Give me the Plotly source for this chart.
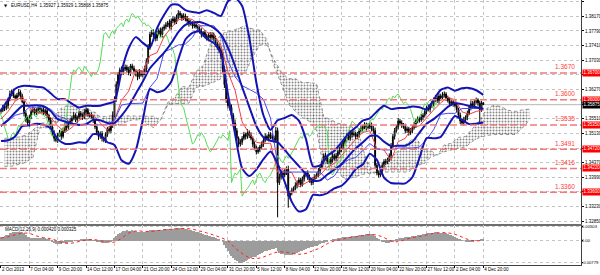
import plotly.graph_objects as go

# ---------------- data (prices in pips above 1.3000) ----------------
BASE = 1.3
PIP = 0.0001

close_pips = [
    572, 580, 578,
    585, 600, 615, 622, 610, 605,
    612, 620, 610, 595, 565, 548,
    540, 556, 570, 575, 566, 572,
    578, 570, 575, 565, 572, 560,
    548, 530, 512, 500, 495, 510,
    515, 505, 520, 535, 528, 540,
    545, 552, 560, 548, 555, 565,
    560, 555, 568, 575, 562, 560,
    555, 548, 530, 515, 505, 512,
    500, 495, 510, 525, 520, 535,
    560, 600, 640, 665, 678, 672,
    680, 685, 678, 670, 688, 682,
    675, 668, 660, 672, 665, 670,
    680, 700, 735, 770, 775, 768,
    760, 772, 780, 770, 785, 790,
    795, 800, 790, 805, 810, 802,
    815, 825, 820, 812, 818, 810,
    805, 798, 800, 792, 795, 790,
    785, 778, 770, 775, 765, 760,
    768, 762, 770, 760, 745, 738,
    730, 715, 680, 640, 600, 585,
    580, 560, 540, 520, 500, 485,
    490, 500, 510, 505, 515, 508,
    500, 485, 475, 465, 470, 478,
    485, 495, 505, 500, 510, 505,
    500, 495, 520, 385, 400, 410,
    405, 412, 420, 350, 358, 365,
    370, 378, 385, 392, 380, 395,
    405, 410, 400, 390, 385, 395,
    400, 405, 415, 425, 440, 455,
    450, 440, 438, 445, 455, 448,
    455, 465, 470, 480, 490, 498,
    505, 500, 515, 510, 512, 505,
    510, 520, 525, 530, 535, 528,
    530, 535, 525, 520, 430, 410,
    405, 415, 430, 440, 438, 445,
    455, 480, 505, 520, 530, 545,
    540, 535, 530, 520, 525, 515,
    520, 528, 535, 545, 550, 548,
    555, 560, 570, 580, 575, 585,
    590, 600, 605, 598, 610, 605,
    612, 615, 605, 598, 590, 595,
    590, 585, 575, 560, 545, 540,
    548, 555, 565, 580, 590, 585,
    595, 600, 592, 575, 592.7, 587.5,
]
first_open_pips = 570

wick_up = [
    5, 7, 4, 8, 6, 9, 5, 7, 4, 6,
    8, 5, 6, 4, 7, 9, 5, 6, 8, 4,
    6, 5, 7, 4, 8, 5, 6, 4, 7, 5,
    9, 6, 4, 7, 5, 8, 6, 4, 5, 7,
    6, 8, 5, 4, 7, 6, 5, 9, 6, 4,
    5, 7, 6, 4, 8, 5, 6, 7, 4, 6,
    5, 8, 6, 10, 9, 8, 7, 6, 9, 5,
    7, 6, 8, 5, 6, 7, 4, 6, 8, 5,
    6, 9, 8, 10, 7, 6, 8, 5, 7, 6,
    8, 5, 6, 7, 5, 9, 6, 8, 5, 7,
    8, 6, 5, 7, 6, 8, 5, 7, 4, 6,
    7, 5, 6, 8, 4, 6, 7, 5, 8, 6,
    5, 7, 6, 8, 6, 9, 7, 8, 6, 7,
    8, 6, 9, 7, 5, 8, 6, 7, 5, 9,
    6, 8, 5, 7, 6, 8, 5, 7, 6, 8,
    5, 7, 6, 8, 7, 10, 8, 9, 7, 6,
    8, 7, 9, 6, 7, 5, 8, 6, 7, 5,
    6, 8, 5, 7, 6, 8, 5, 7, 6, 8,
    7, 5, 6, 8, 5, 7, 6, 8, 5, 7,
    6, 8, 5, 7, 6, 8, 7, 5, 6, 8,
    5, 7, 6, 8, 5, 7, 6, 9, 8, 6,
    7, 8, 6, 7, 5, 8, 6, 7, 5, 6,
    8, 6, 7, 5, 8, 6, 7, 5, 8, 6,
    5, 7, 6, 8, 5, 7, 6, 8, 5, 7,
    6, 8, 5, 7, 6, 8, 5, 7, 6, 8,
    7, 5, 6, 8, 5, 7, 6, 8, 5, 7,
    6, 8, 5, 7, 6, 8, 7, 5, 6, 4,
    6, 5, 0.2,
]
wick_dn = [
    6, 4, 7, 5, 8, 4, 6, 5, 7, 6,
    5, 7, 4, 8, 6, 5, 9, 6, 4, 7,
    5, 8, 6, 7, 4, 6, 8, 5, 7, 6,
    8, 5, 7, 6, 9, 5, 6, 8, 5, 4,
    7, 5, 6, 8, 4, 6, 7, 5, 8, 6,
    6, 5, 8, 6, 7, 9, 6, 8, 5, 7,
    6, 5, 7, 8, 6, 5, 7, 8, 6, 7,
    5, 7, 6, 8, 5, 6, 7, 9, 6, 5,
    7, 6, 8, 6, 5, 7, 6, 8, 7, 5,
    6, 8, 5, 7, 6, 5, 8, 6, 7, 5,
    6, 8, 7, 5, 6, 7, 8, 5, 7, 6,
    5, 7, 6, 8, 7, 5, 6, 8, 6, 7,
    8, 6, 7, 9, 8, 10, 9, 8, 7, 8,
    7, 9, 8, 6, 8, 6, 7, 5, 8, 6,
    7, 5, 8, 6, 7, 5, 6, 8, 7, 5,
    6, 8, 7, 5, 6, 7, 90, 6, 7, 8,
    6, 7, 30, 8, 6, 7, 5, 8, 6, 7,
    5, 7, 6, 8, 5, 7, 6, 8, 5, 6,
    7, 5, 8, 6, 7, 5, 6, 8, 5, 7,
    6, 7, 5, 8, 6, 7, 5, 6, 8, 5,
    7, 6, 8, 5, 7, 6, 8, 5, 6, 7,
    8, 10, 6, 7, 5, 8, 6, 7, 5, 6,
    7, 6, 8, 5, 7, 6, 8, 5, 7, 6,
    8, 6, 7, 5, 8, 6, 7, 5, 8, 6,
    7, 5, 8, 6, 7, 5, 6, 8, 7, 5,
    6, 8, 5, 7, 6, 8, 5, 7, 6, 8,
    5, 7, 6, 8, 5, 7, 6, 8, 5, 7,
    35, 6, 0.7,
]

# Bollinger Bands (20,2) read every 4 bars: middle, upper, lower (pips)
bb_mid = [533, 548, 567, 584, 585, 586, 583.5, 571, 550, 544, 538, 535, 537, 548, 547, 540, 539.5,
          559, 584, 616, 648, 682, 703, 723, 747, 776, 795, 801, 802, 796, 787, 770, 735.5, 688,
          633, 582, 532, 503, 494, 490.5, 470, 448, 428, 407, 390, 391, 406, 419, 433, 454, 474,
          489, 506, 507, 491.5, 480, 481, 481, 491, 515, 538, 550, 565, 582, 591, 589, 584, 581, 577]
bb_up = [573, 601, 629, 636, 636, 634, 632, 617, 602, 602, 590, 580, 585, 584, 585, 590, 596,
         675, 734, 763, 748, 736, 786, 821, 847, 847, 833, 828, 826, 833, 826, 818, 856, 865,
         844, 762, 645, 560, 522, 547, 553, 561, 546, 498, 427, 430, 454, 468, 489, 513, 528,
         546, 552, 570, 585, 576, 579, 579, 583, 581, 575, 600, 626, 632, 624, 630, 631, 625, 613]
bb_lo = [493, 495, 505, 532, 534, 538, 535, 526, 498, 486, 486, 490, 489, 511, 509, 490, 483,
         443, 434, 469, 548, 628, 620, 625, 647, 705, 757, 774, 778, 759, 748, 722, 615, 511,
         422, 402, 419, 446, 466, 434, 387, 335, 310, 316, 353, 352, 358, 370, 377, 395, 420,
         432, 460, 444, 398, 384, 383, 383, 399, 449, 501, 500, 504, 532, 558, 548, 537, 538, 541]

# Ichimoku Tenkan-sen / Kijun-sen read every 4 bars (pips)
tenkan = [550, 570, 597, 608, 580, 567.5, 567, 554, 533.5, 515, 528.5, 546.5, 561.5, 561.5, 540,
          521.5, 547.5, 599, 622.5, 678, 674, 715, 722.5, 765, 787.5, 807.5, 813.5, 808.5, 794,
          776, 769, 742.5, 672.5, 625, 542.5, 512.5, 490, 486.5, 487.5, 412.5, 412.5, 411.5, 374,
          384, 395, 405, 425, 435, 455, 476.5, 497.5, 515, 520, 472.5, 470, 442.5, 491.5, 500,
          530, 532.5, 554, 574, 592.5, 606.5, 600, 569, 562.5, 570, 574]
kijun = [530, 544, 560, 565, 581, 581, 581, 576, 557.5, 552.5, 536.5, 536.5, 535, 535, 535, 535,
         547.5, 586.5, 590, 591.5, 591.5, 632.5, 655, 725, 732.5, 742.5, 745, 762.5, 792.5, 792.5,
         792.5, 770, 701.5, 660, 637, 627.5, 617.5, 601.5, 552.5, 431.5, 412.5, 412.5, 412.5,
         412.5, 412.5, 412.5, 391.5, 402.5, 430, 445, 450, 467.5, 486.5, 472.5, 470, 470, 475,
         475, 475, 477.5, 497, 522.5, 562.5, 565, 565, 577.5, 577.5, 577.5, 577.5]

# Senkou spans (cloud), read every 4 bars starting at bar 2, extending 26 bars ahead (pips)
span_a = [500, 502.5, 503.5, 508.5, 521.5, 540, 540, 557, 578.5, 586.5, 580.5, 574, 574, 565,
          545.5, 534, 532.5, 541.5, 548, 548, 537.5, 528, 547.5, 593, 606, 635, 633, 674, 689,
          745, 760, 775, 779, 785.5, 793, 784, 781, 756, 687, 642.5, 590, 570, 554, 544, 520,
          422, 412.5, 412, 393, 398, 404, 409, 408, 419, 442.5, 461, 474, 491, 503, 472.5, 470,
          456, 483, 487.5, 502.5, 505, 525.5, 548, 577.5, 586, 582.5, 573, 570, 574, 576]
span_b = [427.5, 427.5, 432.5, 437.5, 450, 527.5, 527.5, 536.5, 547.5, 547.5, 550, 550, 550, 555,
          557.5, 558.5, 558.5, 558.5, 558.5, 558.5, 558.5, 557.5, 547.5, 586.5, 590, 591.5, 591.5,
          632.5, 635, 642.5, 650, 660, 660, 660, 672.5, 712.5, 742.5, 742.5, 705, 672.5, 655, 655,
          645, 645, 642.5, 556.5, 549, 539, 536.5, 531.5, 509, 444, 412.5, 412.5, 412.5, 412.5,
          412.5, 412.5, 431.5, 431.5, 450, 457.5, 465, 470, 475, 477.5, 492.5, 502.5, 507.5, 510,
          510, 510, 510, 526.5, 547.5]

# MACD(12,26,9) main per bar (pips) and signal every 4 bars (pips)
macd_main = [
    14, 16, 18, 20, 23, 27, 30, 32, 33, 32, 31,
    32, 31, 28, 22, 16, 13, 12, 12, 11, 11,
    12, 11, 11, 10, 10, 8, 5, 0, -5, -9,
    -12, -12, -11, -10, -9, -7, -6, -4, -3, -1,
    0, 1, 2, 3, 4, 5, 5, 6, 6, 5,
    4, 3, 1, -2, -4, -5, -6, -7, -6, -4,
    -3, -1, 2, 9, 17, 24, 30, 33, 35, 37,
    38, 37, 37, 38, 37, 36, 34, 33, 33, 32,
    32, 33, 35, 38, 40, 41, 41, 41, 41, 41,
    41, 42, 42, 43, 43, 44, 44, 45, 45, 46,
    46, 45, 44, 43, 42, 40, 38, 37, 35, 33,
    31, 29, 27, 25, 23, 21, 19, 17, 15, 13,
    10, 7, 4, 0, -5, -13, -24, -36, -46, -55,
    -62, -68, -74, -78, -79, -78, -76, -73, -69, -65,
    -62, -59, -57, -55, -52, -48, -45, -41, -38, -35,
    -33, -31, -30, -30, -27, -35, -42, -46, -48, -49,
    -49, -50, -51, -50, -48, -46, -43, -40, -38, -35,
    -32, -29, -27, -25, -23, -21, -19, -17, -15, -12,
    -9, -6, -4, -2, 0, 2, 4, 6, 8, 10,
    11, 12, 13, 14, 15, 16, 16, 17, 18, 18,
    19, 20, 21, 22, 23, 24, 25, 26, 26, 25,
    18, 10, 4, 0, -3, -5, -6, -7, -6, -4,
    -1, 2, 5, 8, 10, 11, 12, 13, 14, 15,
    16, 17, 18, 19, 20, 21, 22, 24, 25, 27,
    28, 29, 30, 30, 31, 31, 30, 30, 29, 28,
    27, 25, 23, 20, 17, 14, 11, 8, 5, 2,
    0, -2, -3, -3, -2, -1, 0, 1, 2, 3,
    4, 4.2,
]
macd_signal = [10, 15, 22, 28, 27, 18, 12, 8, 0, -8, -8, -2, 3, 5, 1, -4, -4, 10, 28, 36, 35, 34,
               37, 40, 42, 44, 45, 42, 36, 29, 21, 12, 0, -25, -45, -60, -64, -58, -48, -40, -40,
               -45, -48, -45, -35, -25, -10, 0, 5, 12, 15, 19, 23, 21, 12, 0, -3, 5, 12, 16, 22,
               27, 30, 29, 24, 14, 4, 0, 3.25]

# horizontal levels drawn by the analyst
level_prices = [1.3670, 1.3600, 1.3535, 1.3472, 1.3422, 1.3360]
level_labels = ["1.3670", "1.3600", "1.3535", "1.3491", "1.3416", "1.3360"]
level_boxes = ["1.36700", "1.36000", "1.35350", "1.34720", "1.34220", "1.33600"]
bid_price = 1.35875
bid_text = "1.35875"

# axis ticks
time_tick_bars = list(range(0, 273, 16))
time_tick_text = ["2 Oct 2013", "7 Oct 04:00", "9 Oct 20:00", "14 Oct 12:00", "17 Oct 04:00",
                  "21 Oct 20:00", "24 Oct 12:00", "29 Oct 04:00", "31 Oct 20:00", "5 Nov 12:00",
                  "8 Nov 04:00", "12 Nov 20:00", "15 Nov 12:00", "20 Nov 04:00", "22 Nov 20:00",
                  "27 Nov 12:00", "2 Dec 04:00", "4 Dec 20:00"]
price_ticks = [1.3855, 1.3817, 1.3779, 1.3741, 1.3703, 1.3665, 1.3627, 1.3589,
               1.3551, 1.3513, 1.3475, 1.3437, 1.3399, 1.3361, 1.3323, 1.3285]
price_tick_text = ["1.38550", "1.38170", "1.37790", "1.37410", "1.37030", "", "1.36270", "",
                   "1.35510", "1.35130", "", "1.34370", "1.33990", "", "1.33230", "1.32850"]
macd_ticks = [50.3, 0, -77.9]
macd_tick_text = ["0.00503", "0.00", "-0.00779"]

title_text = "EURUSD,H4  1.35927 1.35929 1.35868 1.35875"
macd_text = "MACD(12,26,9) 0.000420 0.000325"

# ---------------- build ----------------
def px(v):
    return BASE + v * PIP

n = min(len(close_pips), len(wick_up), len(wick_dn))
bars = list(range(n))
closes = [px(v) for v in close_pips[:n]]
opens = [px(first_open_pips)] + closes[:-1]
highs = [max(o, c) + wick_up[i] * PIP for i, (o, c) in enumerate(zip(opens, closes))]
lows = [min(o, c) - wick_dn[i] * PIP for i, (o, c) in enumerate(zip(opens, closes))]

step_x = list(range(0, 273, 4))
cloud_x = list(range(2, 299, 4))

fig = go.Figure()

ncl = min(len(cloud_x), len(span_a), len(span_b))
fig.add_trace(go.Scatter(x=cloud_x[:ncl], y=[px(v) for v in span_a[:ncl]], mode="lines",
                         line=dict(color="#7A7A7A", width=0.8, dash="dot"), hoverinfo="skip"))
fig.add_trace(go.Scatter(x=cloud_x[:ncl], y=[px(v) for v in span_b[:ncl]], mode="lines",
                         line=dict(color="#7A7A7A", width=0.8, dash="dot"), fill="tonexty",
                         fillcolor="rgba(255,255,255,0)",
                         fillpattern=dict(shape=".", fgcolor="#111111", bgcolor="rgba(255,255,255,0)",
                                          size=3, solidity=0.35, fillmode="overlay"),
                         hoverinfo="skip"))

fig.add_trace(go.Candlestick(x=bars, open=opens, high=highs, low=lows, close=closes,
                             increasing=dict(line=dict(color="#000000", width=1), fillcolor="#FFFFFF"),
                             decreasing=dict(line=dict(color="#000000", width=1), fillcolor="#000000"),
                             whiskerwidth=0, hoverinfo="skip"))

# Chikou span: closes displaced 26 bars back
fig.add_trace(go.Scatter(x=[b - 26 for b in bars], y=closes, mode="lines",
                         line=dict(color="#55DD55", width=1), hoverinfo="skip"))

for arr, col, w in [(tenkan, "#F04040", 1), (kijun, "#4A4AF0", 1)]:
    m = min(len(step_x), len(arr))
    fig.add_trace(go.Scatter(x=step_x[:m], y=[px(v) for v in arr[:m]], mode="lines",
                             line=dict(color=col, width=w), hoverinfo="skip"))

for arr in (bb_up, bb_mid, bb_lo):
    m = min(len(step_x), len(arr))
    fig.add_trace(go.Scatter(x=step_x[:m], y=[px(v) for v in arr[:m]], mode="lines",
                             line=dict(color="#1414B4", width=2, shape="spline", smoothing=0.6),
                             hoverinfo="skip"))

# MACD pane
nm = min(len(bars), len(macd_main))
fig.add_trace(go.Bar(x=bars[:nm], y=macd_main[:nm], width=0.6, marker=dict(color="#9C9C9C", line=dict(width=0)),
                     xaxis="x2", yaxis="y2", hoverinfo="skip"))
ms = min(len(step_x), len(macd_signal))
fig.add_trace(go.Scatter(x=step_x[:ms], y=macd_signal[:ms], mode="lines",
                         line=dict(color="#FF2020", width=1, dash="dot", shape="spline"),
                         xaxis="x2", yaxis="y2", hoverinfo="skip"))

shapes = []
annotations = []
XD = 581 / 600
for p, lab, box in zip(level_prices, level_labels, level_boxes):
    shapes.append(dict(type="line", xref="x domain", x0=0, x1=1, yref="y", y0=p, y1=p,
                       line=dict(color="#F27A7A", width=1.5, dash="7px,3px")))
    annotations.append(dict(xref="paper", x=565 / 600, yref="y", y=p, text=lab, showarrow=False,
                            xanchor="center", yanchor="bottom", yshift=0.5,
                            font=dict(color="#FF3C3C", size=6.5, family="Liberation Sans")))
    annotations.append(dict(xref="paper", x=582 / 600, yref="y", y=p, text=box, showarrow=False,
                            xanchor="left", yanchor="middle", bgcolor="#FF0000", borderpad=0.4,
                            font=dict(color="#FFFFFF", size=4.5, family="Liberation Sans")))
shapes.append(dict(type="line", xref="x domain", x0=0, x1=1, yref="y", y0=bid_price, y1=bid_price,
                   line=dict(color="#B4B4B4", width=1), layer="below"))
annotations.append(dict(xref="paper", x=582 / 600, yref="y", y=bid_price, text=bid_text, showarrow=False,
                        xanchor="left", yanchor="middle", bgcolor="#000000", borderpad=0.4,
                        font=dict(color="#FFFFFF", size=4.5, family="Liberation Sans")))
annotations.append(dict(xref="paper", x=2 / 600, yref="paper", y=1 - 5 / 275, text="▼", showarrow=False,
                        xanchor="left", yanchor="middle", font=dict(size=4, color="#000000", family="DejaVu Sans")))
annotations.append(dict(xref="paper", x=9 / 600, yref="paper", y=1 - 5 / 275, text=title_text, showarrow=False,
                        xanchor="left", yanchor="middle", font=dict(size=4.5, color="#000000", family="Liberation Sans")))
annotations.append(dict(xref="paper", x=3 / 600, yref="paper", y=1 - 230 / 275, text=macd_text, showarrow=False,
                        xanchor="left", yanchor="middle", font=dict(size=4.5, color="#000000", family="Liberation Sans")))

grid = dict(showgrid=True, gridcolor="#C4C4C4", griddash="dot", gridwidth=1, zeroline=False, automargin=False)

fig.update_layout(
    width=600, height=275, margin=dict(l=0, r=0, t=0, b=0, autoexpand=False),
    paper_bgcolor="white", plot_bgcolor="white", showlegend=False,
    font=dict(family="Liberation Sans", size=4.5, color="#000000"),
    shapes=shapes, annotations=annotations, bargap=0,
    xaxis=dict(domain=[0, XD], range=[-0.56, 327.1], anchor="y", tickvals=time_tick_bars,
               showticklabels=False, ticks="", showline=True, linecolor="#6E6E6E", linewidth=2,
               rangeslider=dict(visible=False), **grid),
    yaxis=dict(domain=[1 - 224 / 275, 1], range=[1.32776, 1.38594], side="right", anchor="x",
               tickvals=price_ticks, ticktext=price_tick_text, ticks="outside", ticklen=2,
               tickcolor="#000000", showline=True, linecolor="#404040", linewidth=1,
               tickfont=dict(size=4.5), **grid),
    xaxis2=dict(domain=[0, XD], range=[-0.56, 327.1], anchor="y2", matches="x",
                tickvals=time_tick_bars, ticktext=time_tick_text, ticklabelposition="outside right",
                tickangle=0, ticks="outside", ticklen=2, tickcolor="#000000", tickfont=dict(size=4.5),
                showline=True, linecolor="#404040", linewidth=1, **grid),
    yaxis2=dict(domain=[1 - 265 / 275, 1 - 225 / 275], range=[-86.9, 57.5], side="right", anchor="x2",
                tickvals=macd_ticks, ticktext=macd_tick_text, ticks="outside", ticklen=1,
                ticklabelstandoff=-2,
                tickcolor="#000000", showline=True, linecolor="#404040", linewidth=1,
                tickfont=dict(size=4.2), **grid),
)

fig.write_html("out.html")
